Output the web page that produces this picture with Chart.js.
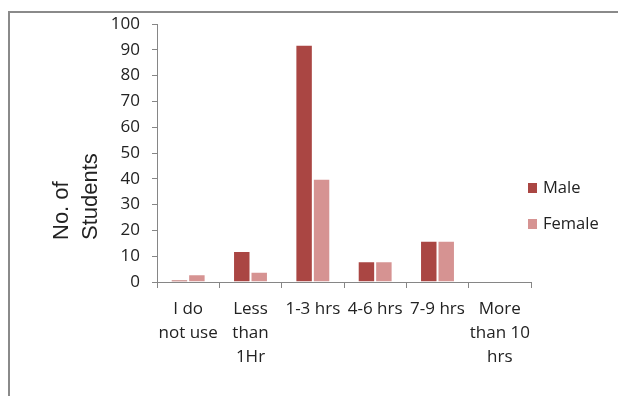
<!DOCTYPE html>
<html>
<head>
<meta charset="utf-8">
<script src="https://cdn.jsdelivr.net/npm/chart.js@4.4.0/dist/chart.umd.min.js"></script>
<style>
  html, body { margin: 0; padding: 0; background: #fff; }
  #wrap { position: relative; width: 618px; height: 396px; overflow: hidden; }
  #frame { position: absolute; left: 8px; top: 11px; right: -10px; bottom: -10px;
           border-top: 2px solid #8a8a8a; border-left: 2px solid #8a8a8a; }
  canvas { position: absolute; left: 0; top: 0; }
</style>
</head>
<body>
<div id="wrap">
  <div id="frame"></div>
  <canvas id="chart" width="618" height="396"></canvas>
</div>
<script>
// data
const categories = [['I do', 'not use'], ['Less', 'than', '1Hr'], '1-3 hrs', '4-6 hrs', '7-9 hrs', ['More', 'than 10', 'hrs']];
const maleValues = [1, 12, 92, 8, 16, 0];
const femaleValues = [3, 4, 40, 8, 16, 0];
const yTickValues = [0, 10, 20, 30, 40, 50, 60, 70, 80, 90, 100];
const yTitleLines = ['No. of', 'Students'];

const AXIS = '#868686';
const TEXT = '#222';
const FONT = "'Open Sans', sans-serif";

// rotated two-line y title, left aligned like the original
const yTitlePlugin = {
  id: 'yTitle',
  afterDraw(chart) {
    const ctx = chart.ctx;
    ctx.save();
    ctx.fillStyle = TEXT;
    ctx.font = "22px 'Liberation Sans', Arial, sans-serif";
    ctx.textAlign = 'left';
    ctx.textBaseline = 'alphabetic';
    const xs = [68, 97];
    yTitleLines.forEach((line, i) => {
      ctx.save();
      ctx.translate(xs[i], 240);
      ctx.rotate(-Math.PI / 2);
      ctx.fillText(line, 0, 0);
      ctx.restore();
    });
    ctx.restore();
  }
};

// legend drawn beside the plot (Excel puts it close to the axis end)
const sideLegendPlugin = {
  id: 'sideLegend',
  afterDraw(chart) {
    const ctx = chart.ctx;
    ctx.save();
    ctx.font = '16.5px ' + FONT;
    ctx.textBaseline = 'middle';
    chart.data.datasets.forEach((ds, i) => {
      const y = 188 + i * 36;
      ctx.fillStyle = ds.backgroundColor;
      ctx.fillRect(528, y - 5, 9, 10);
      ctx.fillStyle = TEXT;
      ctx.fillText(ds.label, 543, y);
    });
    ctx.restore();
  }
};

new Chart(document.getElementById('chart'), {
  type: 'bar',
  data: {
    labels: categories,
    datasets: [
      {
        label: 'Male',
        data: maleValues,
        backgroundColor: '#AA4643',
        borderColor: 'rgba(255,255,255,0.85)',
        borderWidth: 1,
        categoryPercentage: 0.56,
        barPercentage: 1
      },
      {
        label: 'Female',
        data: femaleValues,
        backgroundColor: '#D69392',
        borderColor: 'rgba(255,255,255,0.85)',
        borderWidth: 1,
        categoryPercentage: 0.56,
        barPercentage: 1
      }
    ]
  },
  options: {
    responsive: false,
    animation: false,
    layout: { padding: { left: 100, top: 24, right: 87, bottom: 14 } },
    plugins: {
      legend: { display: false },
      tooltip: { enabled: false }
    },
    scales: {
      x: {
        grid: { offset: true, drawOnChartArea: false, tickLength: 6, color: AXIS },
        border: { color: AXIS, width: 1 },
        ticks: {
          color: TEXT,
          font: { family: FONT, size: 17, lineHeight: 1.42 },
          maxRotation: 0,
          autoSkip: false,
          padding: 9
        },
        afterFit(scale) { scale.height = 100; }
      },
      y: {
        min: 0,
        max: 100,
        grid: { drawOnChartArea: false, tickLength: 5, color: AXIS },
        border: { color: AXIS, width: 1 },
        ticks: {
          color: TEXT,
          font: { family: FONT, size: 17 },
          padding: 12
        },
        afterBuildTicks(scale) { scale.ticks = yTickValues.map(v => ({ value: v })); },
        afterFit(scale) { scale.width = 57; }
      }
    }
  },
  plugins: [yTitlePlugin, sideLegendPlugin]
});
</script>
</body>
</html>
